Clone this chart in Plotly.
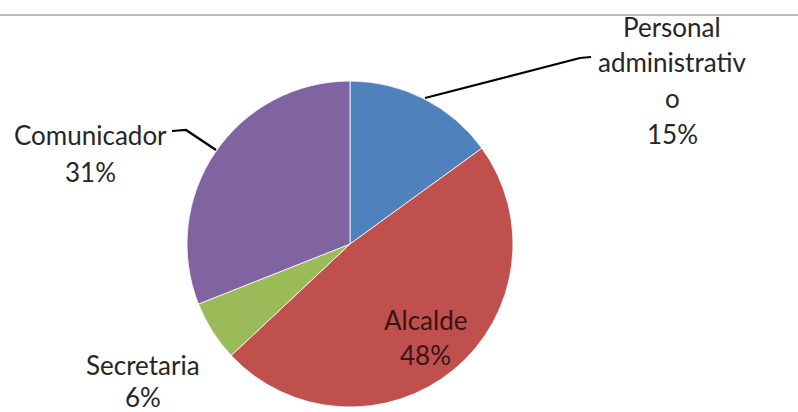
import plotly.graph_objects as go

# Cargos y su participación (%)
labels = ["Personal administrativo", "Alcalde", "Secretaria", "Comunicador"]
values = [15, 48, 6, 31]
colors = ["#4F81BD", "#C0504D", "#9BBB59", "#8064A2"]

W, H = 798, 412

fig = go.Figure(
    go.Pie(
        labels=labels,
        values=values,
        sort=False,
        direction="clockwise",
        rotation=0,
        textinfo="none",
        hoverinfo="label+percent",
        marker=dict(colors=colors, line=dict(color="#ffffff", width=0.8)),
        domain=dict(x=[0.2343, 0.6429], y=[0.0121, 0.8034]),
        showlegend=False,
    )
)

def px(x, y):
    return x / W, 1 - y / H

# Label lines: (text lines, centre x, first line centre y, line step, colour)
total = sum(values)
pct = [f"{round(v * 100 / total)}%" for v in values]
label_specs = [
    (["Personal", "administrativ", "o", pct[0]], 672, 27, 35.5, "#262626"),
    (["Alcalde", pct[1]], 425, 320, 35, "#3a1414"),
    (["Secretaria", pct[2]], 143, 365, 32, "#262626"),
    (["Comunicador", pct[3]], 90, 135, 37, "#262626"),
]

annotations = []
for lines, cx, cy, step, col in label_specs:
    for i, t in enumerate(lines):
        x, y = px(cx, cy + i * step)
        annotations.append(
            dict(
                text=t, x=x, y=y, xref="paper", yref="paper",
                xanchor="center", yanchor="middle", showarrow=False,
                font=dict(family="Lato, sans-serif", size=26, color=col),
            )
        )

def path(points):
    return "M " + " L ".join(f"{x / W:.4f},{1 - y / H:.4f}" for x, y in points)

shapes = [
    # thin rule across the top
    dict(type="line", xref="paper", yref="paper", x0=0, x1=1,
         y0=1 - 15 / H, y1=1 - 15 / H, line=dict(color="#a8a8a8", width=1.5)),
    # leader lines
    dict(type="path", xref="paper", yref="paper",
         path=path([(425, 98), (580, 58), (591, 57)]),
         line=dict(color="#000000", width=2.2)),
    dict(type="path", xref="paper", yref="paper",
         path=path([(172, 131), (186, 130), (216, 150)]),
         line=dict(color="#000000", width=2.2)),
]

fig.update_layout(
    width=W, height=H,
    margin=dict(l=0, r=0, t=0, b=0),
    paper_bgcolor="#ffffff",
    plot_bgcolor="#ffffff",
    annotations=annotations,
    shapes=shapes,
)

fig.write_html("out.html")
